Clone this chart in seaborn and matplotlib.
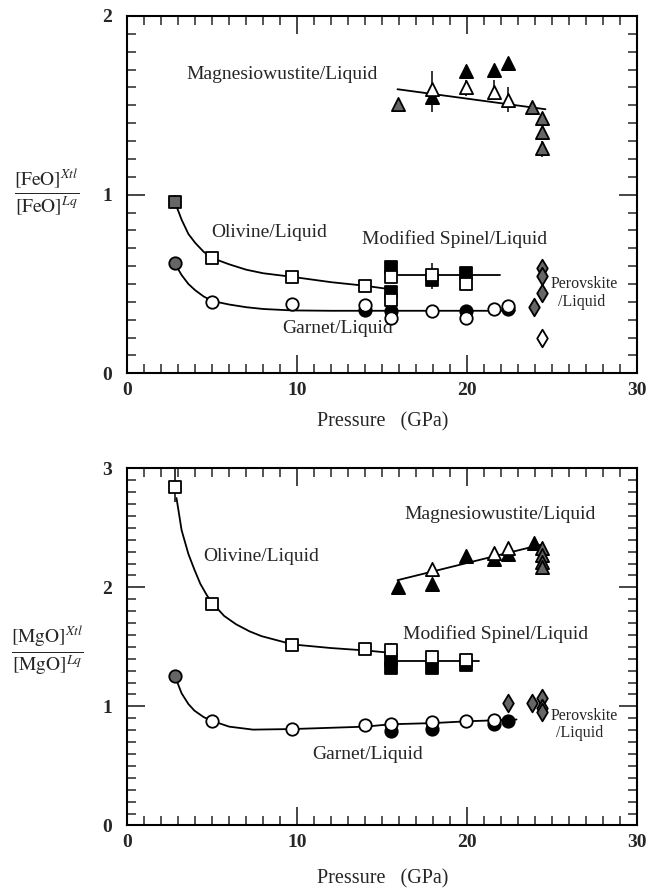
import matplotlib
matplotlib.use("Agg")
import matplotlib.pyplot as plt
import seaborn as sns
import pandas as pd
from matplotlib.ticker import MultipleLocator

# ---------------- data: top panel (FeO partitioning) ----------------
fe_ol_open_x = [5.0, 9.7, 14.0]
fe_ol_open_y = [0.645, 0.54, 0.49]
fe_ol_hatch_x = [2.8]
fe_ol_hatch_y = [0.96]
fe_sp_open_x = [15.5, 15.5, 17.9, 19.9]
fe_sp_open_y = [0.54, 0.41, 0.55, 0.50]
fe_sp_fill_x = [15.5, 15.5, 17.9, 19.9]
fe_sp_fill_y = [0.595, 0.455, 0.52, 0.56]
fe_gt_open_x = [5.0, 9.7, 14.0, 15.5, 17.9, 19.9, 21.6, 22.4]
fe_gt_open_y = [0.40, 0.39, 0.385, 0.31, 0.35, 0.31, 0.36, 0.375]
fe_gt_fill_x = [14.0, 15.5, 19.9, 22.4]
fe_gt_fill_y = [0.355, 0.35, 0.35, 0.36]
fe_gt_hatch_x = [2.8]
fe_gt_hatch_y = [0.615]
fe_mw_open_x = [17.9, 19.9, 21.6, 22.4]
fe_mw_open_y = [1.59, 1.60, 1.575, 1.53]
fe_mw_fill_x = [17.9, 19.9, 21.6, 22.4]
fe_mw_fill_y = [1.545, 1.69, 1.70, 1.735]
fe_mw_hatch_x = [15.9, 23.8, 24.4, 24.4, 24.4]
fe_mw_hatch_y = [1.505, 1.49, 1.43, 1.35, 1.26]
fe_pv_hatch_x = [24.4, 24.4, 24.4, 23.9]
fe_pv_hatch_y = [0.59, 0.545, 0.45, 0.37]
fe_pv_open_x = [24.4]
fe_pv_open_y = [0.20]
# error bars (x, low, high)
fe_err_x = [2.8, 17.9, 19.9, 21.6, 22.4, 24.4, 17.9, 24.4]
fe_err_lo = [0.93, 1.46, 1.55, 1.53, 1.46, 1.21, 0.47, 0.18]
fe_err_hi = [1.00, 1.69, 1.64, 1.64, 1.60, 1.30, 0.62, 0.23]
# fitted curves
fe_ol_fit_x = [2.8, 3.2, 3.6, 4.0, 4.5, 5.0, 6.0, 7.0, 8.0, 9.7, 12.0, 14.0, 15.5]
fe_ol_fit_y = [0.96, 0.86, 0.78, 0.73, 0.68, 0.645, 0.61, 0.58, 0.56, 0.54, 0.51, 0.49, 0.47]
fe_sp_fit_x = [15.5, 21.9]
fe_sp_fit_y = [0.55, 0.55]
fe_gt_fit_x = [2.8, 3.2, 3.6, 4.0, 4.5, 5.0, 6.0, 7.0, 8.0, 9.7, 12.0, 22.8]
fe_gt_fit_y = [0.615, 0.55, 0.50, 0.465, 0.43, 0.405, 0.385, 0.37, 0.36, 0.352, 0.35, 0.35]
fe_mw_fit_x = [15.9, 24.6]
fe_mw_fit_y = [1.59, 1.478]

# ---------------- data: bottom panel (MgO partitioning) ----------------
mg_ol_open_x = [2.8, 5.0, 9.7, 14.0]
mg_ol_open_y = [2.845, 1.86, 1.517, 1.48]
mg_sp_open_x = [15.5, 17.9, 19.9]
mg_sp_open_y = [1.475, 1.414, 1.39]
mg_sp_fill_x = [15.5, 15.5, 17.9, 19.9]
mg_sp_fill_y = [1.39, 1.32, 1.32, 1.35]
mg_gt_open_x = [5.0, 9.7, 14.0, 15.5, 17.9, 19.9, 21.6]
mg_gt_open_y = [0.874, 0.81, 0.84, 0.855, 0.866, 0.88, 0.888]
mg_gt_fill_x = [15.5, 17.9, 21.6, 22.4]
mg_gt_fill_y = [0.79, 0.81, 0.85, 0.88]
mg_gt_hatch_x = [2.8]
mg_gt_hatch_y = [1.257]
mg_mw_open_x = [17.9, 21.6, 22.4]
mg_mw_open_y = [2.15, 2.285, 2.33]
mg_mw_fill_x = [15.9, 17.9, 19.9, 21.6, 22.4, 23.9]
mg_mw_fill_y = [2.006, 2.03, 2.26, 2.24, 2.28, 2.37]
mg_mw_hatch_x = [24.4, 24.4, 24.4, 24.4]
mg_mw_hatch_y = [2.33, 2.27, 2.215, 2.17]
mg_pv_hatch_x = [22.4, 23.8, 24.4, 24.4, 24.4]
mg_pv_hatch_y = [1.03, 1.03, 1.07, 0.99, 0.95]
mg_err_x = [2.8, 15.5, 17.9, 9.7, 22.4]
mg_err_lo = [2.72, 1.42, 1.38, 1.49, 0.98]
mg_err_hi = [3.00, 1.53, 1.45, 1.55, 1.08]
mg_ol_fit_x = [2.9, 3.2, 3.6, 3.95, 4.3, 4.7, 5.06, 5.7, 6.4, 7.2, 7.9, 9.75, 12.0, 14.0, 15.5]
mg_ol_fit_y = [2.75, 2.48, 2.28, 2.15, 2.03, 1.93, 1.86, 1.76, 1.69, 1.63, 1.59, 1.52, 1.49, 1.47, 1.45]
mg_sp_fit_x = [15.5, 20.7]
mg_sp_fit_y = [1.378, 1.378]
mg_gt_fit_x = [2.8, 3.2, 3.6, 3.95, 4.5, 5.06, 6.0, 7.4, 9.75, 14.0, 15.5, 18.0, 20.0, 22.9]
mg_gt_fit_y = [1.257, 1.11, 1.02, 0.965, 0.91, 0.875, 0.83, 0.805, 0.81, 0.83, 0.85, 0.86, 0.875, 0.89]
mg_mw_fit_x = [15.9, 24.4]
mg_mw_fit_y = [2.06, 2.36]

x_ticks = [0, 10, 20, 30]
fe_y_ticks = [0, 1, 2]
mg_y_ticks = [0, 1, 2, 3]

# ---------------- styling ----------------
sns.set_style("white")
plt.rcParams['font.family'] = ['Liberation Serif', 'DejaVu Serif']
plt.rcParams['mathtext.fontset'] = 'stix'

fig = plt.figure(figsize=(6.59, 8.88), dpi=100)
ax1 = fig.add_axes([0.193, 0.5796, 0.774, 0.4024])
ax2 = fig.add_axes([0.193, 0.0704, 0.774, 0.4023])

MS = 80
EW = 1.3
HATCH = '0.4'
TXT = 14


def pts(ax, xs, ys, marker, face, size=MS):
    df = pd.DataFrame({'x': xs, 'y': ys})
    sns.scatterplot(data=df, x='x', y='y', marker=marker, s=size, color=face,
                    edgecolor='black', linewidth=EW, ax=ax, zorder=4, legend=False)


def fit(ax, xs, ys):
    df = pd.DataFrame({'x': xs, 'y': ys})
    sns.lineplot(data=df, x='x', y='y', color='black', lw=1.3, ax=ax,
                 sort=False, estimator=None, zorder=3)


def frame(ax, ymax, yticks, labelpad):
    ax.set_xlim(0, 30)
    ax.set_ylim(0, ymax)
    ax.set_xticks(x_ticks)
    ax.set_yticks(yticks)
    ax.xaxis.set_minor_locator(MultipleLocator(1))
    ax.yaxis.set_minor_locator(MultipleLocator(0.1))
    ax.tick_params(axis='x', which='major', direction='in', length=13, width=1.2,
                   top=True, bottom=True, pad=6, labelsize=14)
    ax.tick_params(axis='x', which='minor', direction='in', length=6.5, width=1.1,
                   top=True, bottom=True)
    ax.tick_params(axis='y', which='major', direction='in', length=13, width=1.2,
                   left=True, right=True, pad=11, labelsize=14)
    ax.tick_params(axis='y', which='minor', direction='in', length=6.5, width=1.1,
                   left=True, right=True)
    for lab in ax.get_xticklabels() + ax.get_yticklabels():
        lab.set_fontweight('bold')
    for sp in ax.spines.values():
        sp.set_linewidth(1.5)
        sp.set_color('black')
    ax.set_xlabel('Pressure   (GPa)', fontsize=14.5, labelpad=labelpad)
    ax.set_ylabel('')


# ---------------- top panel ----------------
fit(ax1, fe_ol_fit_x, fe_ol_fit_y)
fit(ax1, fe_sp_fit_x, fe_sp_fit_y)
fit(ax1, fe_gt_fit_x, fe_gt_fit_y)
fit(ax1, fe_mw_fit_x, fe_mw_fit_y)
ax1.vlines(fe_err_x, fe_err_lo, fe_err_hi, color='black', lw=1.1, zorder=3)
pts(ax1, fe_sp_fill_x, fe_sp_fill_y, 's', 'black')
pts(ax1, fe_gt_fill_x, fe_gt_fill_y, 'o', 'black')
pts(ax1, fe_mw_fill_x, fe_mw_fill_y, '^', 'black', 90)
pts(ax1, fe_ol_open_x, fe_ol_open_y, 's', 'white')
pts(ax1, fe_ol_hatch_x, fe_ol_hatch_y, 's', HATCH)
pts(ax1, fe_sp_open_x, fe_sp_open_y, 's', 'white')
pts(ax1, fe_gt_open_x, fe_gt_open_y, 'o', 'white')
pts(ax1, fe_gt_hatch_x, fe_gt_hatch_y, 'o', HATCH)
pts(ax1, fe_mw_open_x, fe_mw_open_y, '^', 'white', 90)
pts(ax1, fe_mw_hatch_x, fe_mw_hatch_y, '^', HATCH, 90)
pts(ax1, fe_pv_hatch_x, fe_pv_hatch_y, 'd', HATCH, 80)
pts(ax1, fe_pv_open_x, fe_pv_open_y, 'd', 'white', 80)

frame(ax1, 2, fe_y_ticks, 10)
ax1.text(3.5, 1.67, 'Magnesiowustite/Liquid', fontsize=TXT, va='center')
ax1.text(4.95, 0.79, 'Olivine/Liquid', fontsize=TXT, va='center')
ax1.text(13.8, 0.75, 'Modified Spinel/Liquid', fontsize=TXT, va='center')
ax1.text(9.1, 0.25, 'Garnet/Liquid', fontsize=TXT, va='center')
ax1.text(24.9, 0.50, 'Perovskite', fontsize=11.5, va='center')
ax1.text(25.35, 0.40, '/Liquid', fontsize=11.5, va='center')
ax1.text(-0.157, 0.504,
         r'$\frac{\left[\mathrm{FeO}\right]^{\mathit{Xtl}}}{\left[\mathrm{FeO}\right]^{\mathit{Lq}}}$',
         transform=ax1.transAxes, fontsize=20, ha='center', va='center')

# ---------------- bottom panel ----------------
fit(ax2, mg_ol_fit_x, mg_ol_fit_y)
fit(ax2, mg_sp_fit_x, mg_sp_fit_y)
fit(ax2, mg_gt_fit_x, mg_gt_fit_y)
fit(ax2, mg_mw_fit_x, mg_mw_fit_y)
ax2.vlines(mg_err_x, mg_err_lo, mg_err_hi, color='black', lw=1.1, zorder=3)
pts(ax2, mg_sp_fill_x, mg_sp_fill_y, 's', 'black')
pts(ax2, mg_gt_fill_x, mg_gt_fill_y, 'o', 'black')
pts(ax2, mg_mw_fill_x, mg_mw_fill_y, '^', 'black', 90)
pts(ax2, mg_ol_open_x, mg_ol_open_y, 's', 'white')
pts(ax2, mg_sp_open_x, mg_sp_open_y, 's', 'white')
pts(ax2, mg_gt_open_x, mg_gt_open_y, 'o', 'white')
pts(ax2, mg_gt_hatch_x, mg_gt_hatch_y, 'o', HATCH)
pts(ax2, mg_mw_open_x, mg_mw_open_y, '^', 'white', 90)
pts(ax2, mg_mw_hatch_x, mg_mw_hatch_y, '^', HATCH, 90)
pts(ax2, mg_pv_hatch_x, mg_pv_hatch_y, 'd', HATCH, 80)

frame(ax2, 3, mg_y_ticks, 13)
ax2.text(16.3, 2.61, 'Magnesiowustite/Liquid', fontsize=TXT, va='center')
ax2.text(4.5, 2.26, 'Olivine/Liquid', fontsize=TXT, va='center')
ax2.text(16.2, 1.61, 'Modified Spinel/Liquid', fontsize=TXT, va='center')
ax2.text(10.9, 0.60, 'Garnet/Liquid', fontsize=TXT, va='center')
ax2.text(24.9, 0.92, 'Perovskite', fontsize=11.5, va='center')
ax2.text(25.25, 0.78, '/Liquid', fontsize=11.5, va='center')
ax2.text(-0.157, 0.49,
         r'$\frac{\left[\mathrm{MgO}\right]^{\mathit{Xtl}}}{\left[\mathrm{MgO}\right]^{\mathit{Lq}}}$',
         transform=ax2.transAxes, fontsize=20, ha='center', va='center')

fig.savefig('out.png', dpi=100)
